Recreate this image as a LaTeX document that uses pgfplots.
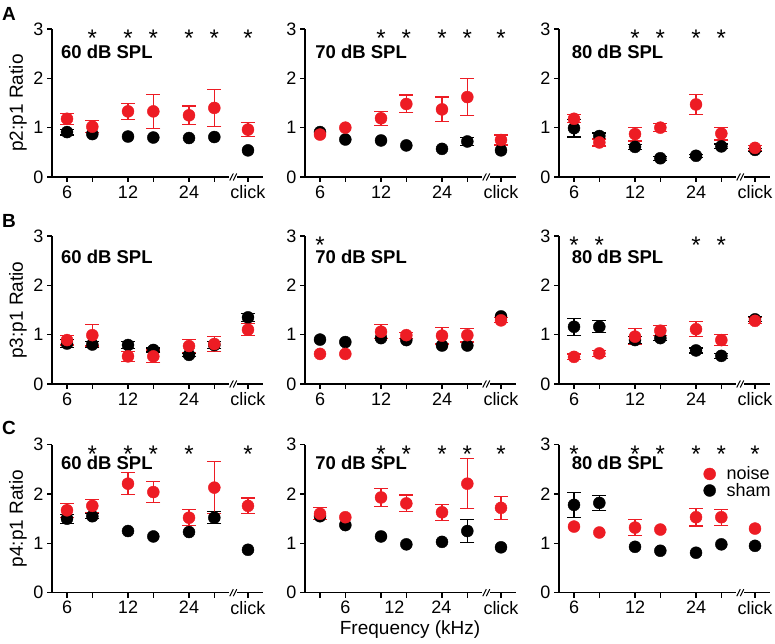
\documentclass[border=0pt]{standalone}
\usepackage{fontspec}
\setmainfont{Liberation Sans}
\usepackage{pgfplots}
\usepackage{pgfplotstable}
\pgfplotsset{compat=1.18}
\definecolor{nred}{RGB}{237,28,36}

% x positions: log2(f/6); click at 2.967
\pgfplotstableread{
x s se n ne
0 0.91 0.06 1.18 0.11
0.415 0.87 0 1.02 0.12
1 0.82 0 1.33 0.16
1.415 0.80 0 1.33 0.34
2 0.79 0 1.25 0.19
2.415 0.81 0 1.40 0.37
2.967 0.54 0 0.96 0.14
}\tAa
\pgfplotstableread{
x s se n ne
0 0.91 0 0.86 0
0.415 0.76 0 1.00 0
1 0.74 0 1.19 0.14
1.415 0.64 0 1.48 0.18
2 0.57 0 1.37 0.25
2.415 0.72 0.08 1.62 0.38
2.967 0.54 0 0.75 0.10
}\tAb
\pgfplotstableread{
x s se n ne
0 0.99 0.18 1.18 0.08
0.415 0.83 0.06 0.70 0.07
1 0.61 0.05 0.87 0.14
1.415 0.38 0.04 1.00 0.08
2 0.43 0.03 1.47 0.20
2.415 0.62 0.05 0.88 0.13
2.967 0.55 0.03 0.59 0.05
}\tAc
\pgfplotstableread{
x s se n ne
0 0.82 0.08 0.89 0.10
0.415 0.80 0.06 0.99 0.22
1 0.79 0.07 0.56 0.10
1.415 0.69 0.04 0.56 0.13
2 0.59 0.04 0.77 0.13
2.415 0.79 0.07 0.81 0.15
2.967 1.35 0.08 1.10 0.12
}\tBa
\pgfplotstableread{
x s se n ne
0 0.90 0 0.61 0
0.415 0.85 0 0.61 0
1 0.93 0 1.06 0.14
1.415 0.89 0 0.99 0.06
2 0.78 0 0.98 0.17
2.415 0.78 0 0.99 0.14
2.967 1.37 0 1.29 0.05
}\tBb
\pgfplotstableread{
x s se n ne
0 1.16 0.17 0.55 0.06
0.415 1.16 0.12 0.62 0.06
1 0.89 0.07 0.96 0.16
1.415 0.93 0.05 1.08 0.10
2 0.68 0.05 1.11 0.15
2.415 0.57 0.05 0.89 0.11
2.967 1.31 0.05 1.28 0.06
}\tBc
\pgfplotstableread{
x s se n ne
0 1.50 0.09 1.67 0.14
0.415 1.55 0.05 1.76 0.13
1 1.25 0 2.21 0.22
1.415 1.14 0 2.04 0.21
2 1.23 0 1.52 0.16
2.415 1.52 0.12 2.13 0.53
2.967 0.87 0 1.76 0.16
}\tCa
\pgfplotstableread{
x s se n ne
0 1.55 0 1.60 0.12
0.415 1.37 0 1.53 0
1 1.14 0 1.93 0.19
1.415 0.98 0 1.81 0.17
2 1.03 0 1.63 0.16
2.415 1.25 0.24 2.21 0.51
2.967 0.92 0 1.72 0.23
}\tCb
\pgfplotstableread{
x s se n ne
0 1.78 0.25 1.34 0
0.415 1.82 0.15 1.22 0
1 0.93 0 1.32 0.16
1.415 0.85 0 1.28 0
2 0.81 0 1.53 0.18
2.415 0.98 0 1.53 0.16
2.967 0.95 0 1.30 0
}\tCc

\pgfplotsset{
  panel/.style={
    scale only axis, width=211pt, height=148pt,
    xmin=-0.246, xmax=3.213, ymin=0, ymax=3,
    axis x line=bottom, axis y line=left,
    axis line style={-, line width=1.3pt},
    xtick={0,0.415,1,1.415,2,2.415,2.967},
    xticklabels={6,,12,,24,,click},
    ytick={0,1,2,3},
    tick align=outside, major tick length=5pt,
    tick style={line width=1.3pt, black},
    tick label style={font=\fontsize{18}{20}\selectfont},
    /pgf/number format/assume math mode=true,
    label style={font=\fontsize{19}{21}\selectfont},
    ylabel style={at={(axis description cs:-0.161,0.5)}, anchor=center},
    clip=false,
    anchor=south west,
  },
}

\newcommand{\drawdata}[1]{%
  \addplot[draw=none, mark=none, forget plot, restrict y to domain=-1:10,
    error bars/.cd, y dir=both, y explicit,
    error bar style={draw=black, line width=1.2pt},
    error mark options={rotate=90, mark size=7pt, draw=black, line width=1.2pt}]
    table[x=x, y expr={ifthenelse(\thisrow{se}>0,\thisrow{s},99)}, y error=se] {#1};
  \addplot[only marks, mark=*, mark size=6pt, black, forget plot] table[x=x, y=s] {#1};
  \addplot[draw=none, mark=none, forget plot, restrict y to domain=-1:10,
    error bars/.cd, y dir=both, y explicit,
    error bar style={draw=nred, line width=1.2pt},
    error mark options={rotate=90, mark size=7pt, draw=nred, line width=1.2pt}]
    table[x=x, y expr={ifthenelse(\thisrow{ne}>0,\thisrow{n},99)}, y error=ne] {#1};
  \addplot[only marks, mark=*, mark size=6pt, color=nred, forget plot] table[x=x, y=n] {#1};
  \draw[white, line width=3.5pt] (axis cs:2.66,0) -- (axis cs:2.79,0);
  \draw[line width=1pt] ([xshift=-1.8pt,yshift=-3.5pt]axis cs:2.697,0) -- ([xshift=1.8pt,yshift=3.5pt]axis cs:2.697,0);
  \draw[line width=1pt] ([xshift=-1.8pt,yshift=-3.5pt]axis cs:2.754,0) -- ([xshift=1.8pt,yshift=3.5pt]axis cs:2.754,0);
}
\newcommand{\sig}[1]{\node[font=\fontsize{24}{26}\selectfont, inner sep=0pt] at (axis cs:#1,2.81) {*};}
\newcommand{\ttl}[3]{\node[anchor=west, inner sep=0pt, font=\bfseries\fontsize{18.5}{21}\selectfont] at (axis cs:#1,#2) {#3};}

\begin{document}
\begin{tikzpicture}
\path[use as bounding box] (0pt,0pt) rectangle (775pt,644pt);
\node[font=\bfseries\fontsize{19}{21}\selectfont] at (9pt,630.5pt) {A};
\node[font=\bfseries\fontsize{19}{21}\selectfont] at (9pt,423.5pt) {B};
\node[font=\bfseries\fontsize{19}{21}\selectfont] at (9pt,216.5pt) {C};

% Row A
\begin{axis}[panel, at={(52pt,467pt)}, ylabel={p2:p1 Ratio}]
\drawdata{\tAa}
\ttl{-0.10}{2.53}{60 dB SPL}
\sig{0.415}\sig{1}\sig{1.415}\sig{2}\sig{2.415}\sig{2.967}
\end{axis}
\begin{axis}[panel, at={(305pt,467pt)}]
\drawdata{\tAb}
\ttl{-0.08}{2.53}{70 dB SPL}
\sig{1}\sig{1.415}\sig{2}\sig{2.415}\sig{2.967}
\end{axis}
\begin{axis}[panel, at={(559pt,467pt)}]
\drawdata{\tAc}
\ttl{-0.04}{2.53}{80 dB SPL}
\sig{1}\sig{1.415}\sig{2}\sig{2.415}
\end{axis}

% Row B
\begin{axis}[panel, at={(52pt,260pt)}, ylabel={p3:p1 Ratio}]
\drawdata{\tBa}
\ttl{-0.10}{2.58}{60 dB SPL}
\end{axis}
\begin{axis}[panel, at={(305pt,260pt)}]
\drawdata{\tBb}
\ttl{-0.08}{2.58}{70 dB SPL}
\sig{0}
\end{axis}
\begin{axis}[panel, at={(559pt,260pt)}]
\drawdata{\tBc}
\ttl{-0.04}{2.58}{80 dB SPL}
\sig{0}\sig{0.415}\sig{2}\sig{2.415}
\end{axis}

% Row C
\begin{axis}[panel, at={(52pt,51.3pt)}, ylabel={p4:p1 Ratio}]
\drawdata{\tCa}
\ttl{-0.10}{2.64}{60 dB SPL}
\sig{0.415}\sig{1}\sig{1.415}\sig{2}\sig{2.967}
\end{axis}
\begin{axis}[panel, at={(305pt,51.3pt)},
  xticklabels={},
  extra x ticks={0.415,1.22,1.99,2.967},
  extra x tick labels={6,12,24,click},
  extra x tick style={major tick length=0pt, xticklabel style={yshift=-5pt}},
  xlabel={Frequency (kHz)},
  xlabel style={at={(axis description cs:0.498,-0.251)}, anchor=center}]
\drawdata{\tCb}
\ttl{-0.08}{2.64}{70 dB SPL}
\sig{1}\sig{1.415}\sig{2}\sig{2.415}\sig{2.967}
\end{axis}
\begin{axis}[panel, at={(559pt,51.3pt)},
  legend style={draw=none, fill=none, at={(axis description cs:0.68,0.873)}, anchor=north west,
    font=\fontsize{18}{20}\selectfont, row sep=-2pt, column sep=9pt, inner sep=1pt},
  legend cell align=left]
\drawdata{\tCc}
\ttl{-0.04}{2.64}{80 dB SPL}
\sig{0}\sig{1}\sig{1.415}\sig{2}\sig{2.415}\sig{2.967}
\addlegendimage{only marks, mark=*, mark size=6pt, color=nred}
\addlegendentry{noise}
\addlegendimage{only marks, mark=*, mark size=6pt, black}
\addlegendentry{sham}
\end{axis}
\end{tikzpicture}
\end{document}
